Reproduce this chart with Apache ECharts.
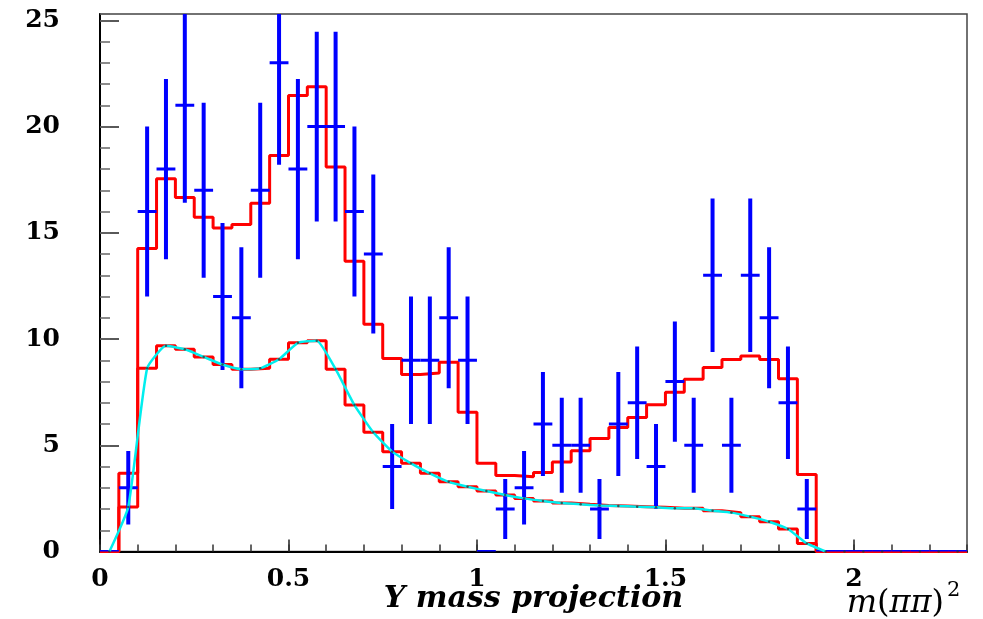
<!DOCTYPE html>
<html>
<head>
<meta charset="utf-8">
<script src="https://cdn.jsdelivr.net/npm/echarts@6/dist/echarts.min.js"></script>
<style>
  html, body { margin: 0; padding: 0; background: #ffffff; }
  #chart { width: 983px; height: 619px; }
</style>
</head>
<body>
<div id="chart"></div>
<script>
// Histogram binning of m(pi pi)^2: 46 bins of width 0.05 from 0 to 2.3
const binWidth = 0.05;
const xMin = 0;
const xMax = 2.3;
const yMin = 0;
const yMax = 25.3;

// Observed event counts per bin
const counts = [
  0, 3, 16, 18, 21, 17, 12, 11, 17, 23,
  18, 20, 20, 16, 14, 4, 9, 9, 11, 9,
  0, 2, 3, 6, 5, 5, 2, 6, 7, 4,
  8, 5, 13, 5, 13, 11, 7, 2, 0, 0,
  0, 0, 0, 0, 0, 0
];

// Statistical error on each count
const countErrors = [
  0, 1.73, 4.00, 4.24, 4.58, 4.12, 3.46, 3.32, 4.12, 4.80,
  4.24, 4.47, 4.47, 4.00, 3.74, 2.00, 3.00, 3.00, 3.32, 3.00,
  0, 1.41, 1.73, 2.45, 2.24, 2.24, 1.41, 2.45, 2.65, 2.00,
  2.83, 2.24, 3.61, 2.24, 3.61, 3.32, 2.65, 1.41, 0, 0,
  0, 0, 0, 0, 0, 0
];

// Full fit projection per bin
const totalFit = [
  0, 3.68, 14.26, 17.55, 16.66, 15.73, 15.23, 15.39, 16.39, 18.64,
  21.46, 21.88, 18.10, 13.66, 10.70, 9.09, 8.33, 8.40, 8.91, 6.55,
  4.15, 3.58, 3.52, 3.72, 4.21, 4.74, 5.32, 5.84, 6.31, 6.91,
  7.49, 8.11, 8.66, 9.04, 9.20, 9.04, 8.13, 3.63, 0, 0,
  0, 0, 0, 0, 0, 0
];

// Background component of the fit per bin
const backgroundFit = [
  0, 2.10, 8.62, 9.68, 9.52, 9.16, 8.80, 8.58, 8.62, 9.05,
  9.82, 9.92, 8.58, 6.89, 5.61, 4.70, 4.15, 3.68, 3.28, 3.05,
  2.85, 2.66, 2.50, 2.38, 2.28, 2.22, 2.17, 2.14, 2.11, 2.08,
  2.03, 2.03, 1.92, 1.83, 1.64, 1.40, 1.06, 0.38, 0, 0,
  0, 0, 0, 0, 0, 0
];

// Number of bins covered by the smooth background curve
const curveBins = 39;

const xTitle = 'Y mass projection';
const varLabel = '{i|m}{u|(}{i|\u03c0\u03c0}{u|)}';
const varPower = '2';

// Helpers turning per-bin values into series data
const binCenter = i => (i + 0.5) * binWidth;
function histSteps(vals) {
  const pts = vals.map((v, i) => [i * binWidth, v]);
  pts.push([vals.length * binWidth, vals[vals.length - 1]]);
  return pts;
}

const errorData = counts.map((c, i) => [binCenter(i), c, countErrors[i]]);
const curveData = backgroundFit.slice(0, curveBins).map((v, i) => [binCenter(i), v]);
const dotData = backgroundFit.map((v, i) => [binCenter(i), v]);

const serifBold = { fontFamily: 'DejaVu Serif', fontWeight: 'bold', color: '#000' };

const chart = echarts.init(document.getElementById('chart'), null, { renderer: 'canvas' });

chart.setOption({
  backgroundColor: '#ffffff',
  animation: false,
  grid: {
    left: 100, right: 16, top: 14, bottom: 67.5,
    outerBoundsMode: 'none', containLabel: false,
    show: true, borderColor: '#444', borderWidth: 1.5, backgroundColor: 'transparent'
  },
  xAxis: [
    {
      type: 'value', min: xMin, max: xMax, interval: 0.5, position: 'bottom',
      axisLine: { show: true, onZero: false, lineStyle: { color: '#000', width: 2 } },
      axisTick: { show: true, inside: true, length: 12, lineStyle: { color: '#222', width: 1.5 } },
      axisLabel: Object.assign({ margin: 15, fontSize: 25, showMaxLabel: false }, serifBold),
      splitLine: { show: false },
      name: xTitle, nameLocation: 'middle', nameGap: 33, nameMoveOverlap: false,
      nameTextStyle: { fontFamily: 'DejaVu Serif', fontWeight: 'bold', fontStyle: 'italic', fontSize: 30, color: '#000' }
    },
    {
      type: 'value', min: xMin, max: xMax, interval: 0.1, position: 'bottom',
      axisLine: { show: false, onZero: false },
      axisTick: { show: true, inside: true, length: 7, lineStyle: { color: '#333', width: 1.5 } },
      axisLabel: { show: false },
      splitLine: { show: false }
    }
  ],
  yAxis: [
    {
      type: 'value', min: yMin, max: yMax, interval: 5, position: 'left',
      axisLine: { show: true, onZero: false, lineStyle: { color: '#000', width: 2 } },
      axisTick: { show: true, inside: true, length: 19, lineStyle: { color: '#222', width: 1.5 } },
      axisLabel: Object.assign({ margin: 40, fontSize: 25, showMaxLabel: false }, serifBold),
      splitLine: { show: false }
    },
    {
      type: 'value', min: yMin, max: yMax, interval: 1, position: 'left',
      axisLine: { show: false, onZero: false },
      axisTick: { show: true, inside: true, length: 10, lineStyle: { color: '#666', width: 1.5 } },
      axisLabel: { show: false },
      splitLine: { show: false }
    }
  ],
  series: [
    {
      name: 'total fit', type: 'line', step: 'end', data: histSteps(totalFit),
      showSymbol: false, clip: true, z: 3,
      lineStyle: { color: '#ff0000', width: 3 }
    },
    {
      name: 'background', type: 'line', step: 'end', data: histSteps(backgroundFit),
      showSymbol: false, clip: true, z: 3,
      lineStyle: { color: '#ff0000', width: 3 }
    },
    {
      name: 'data', type: 'custom', data: errorData, clip: true, z: 4,
      encode: { x: 0, y: 1 },
      renderItem: function (params, api) {
        const x = api.value(0), y = api.value(1), e = api.value(2);
        const mid = api.coord([x, y]);
        const l = api.coord([x - binWidth / 2, y]);
        const r = api.coord([x + binWidth / 2, y]);
        const children = [{
          type: 'line',
          shape: { x1: l[0], y1: mid[1], x2: r[0], y2: mid[1] },
          style: { stroke: '#0000ff', lineWidth: 3 }
        }];
        if (e > 0) {
          const hi = api.coord([x, y + e]);
          const lo = api.coord([x, y - e]);
          children.push({
            type: 'line',
            shape: { x1: mid[0], y1: hi[1], x2: mid[0], y2: lo[1] },
            style: { stroke: '#0000ff', lineWidth: 4 }
          });
        }
        const cs = params.coordSys;
        return {
          type: 'group',
          children: children,
          clipPath: { type: 'rect', shape: { x: cs.x, y: cs.y - 1, width: cs.width, height: cs.height + 2 } }
        };
      }
    },
    {
      name: 'background curve', type: 'line', data: curveData, smooth: 0.15,
      showSymbol: false, clip: true, z: 5,
      lineStyle: { color: '#00eeee', width: 2.5 }
    },
    {
      name: 'background points', type: 'scatter', data: dotData,
      symbol: 'circle', symbolSize: 2.5, z: 6,
      itemStyle: { color: '#333' }
    }
  ],
  graphic: [
    {
      type: 'text', x: 944, y: 604,
      style: {
        text: varLabel, fontFamily: 'DejaVu Serif', fontSize: 32, fill: '#000',
        align: 'right', verticalAlign: 'middle',
        rich: {
          i: { fontFamily: 'DejaVu Serif', fontStyle: 'italic', fontSize: 32, fill: '#000' },
          u: { fontFamily: 'DejaVu Serif', fontSize: 32, fill: '#000' }
        }
      }
    },
    {
      type: 'text', x: 947, y: 591,
      style: { text: varPower, fontFamily: 'DejaVu Serif', fontSize: 21, fill: '#000', align: 'left', verticalAlign: 'middle' }
    }
  ]
});
</script>
</body>
</html>
